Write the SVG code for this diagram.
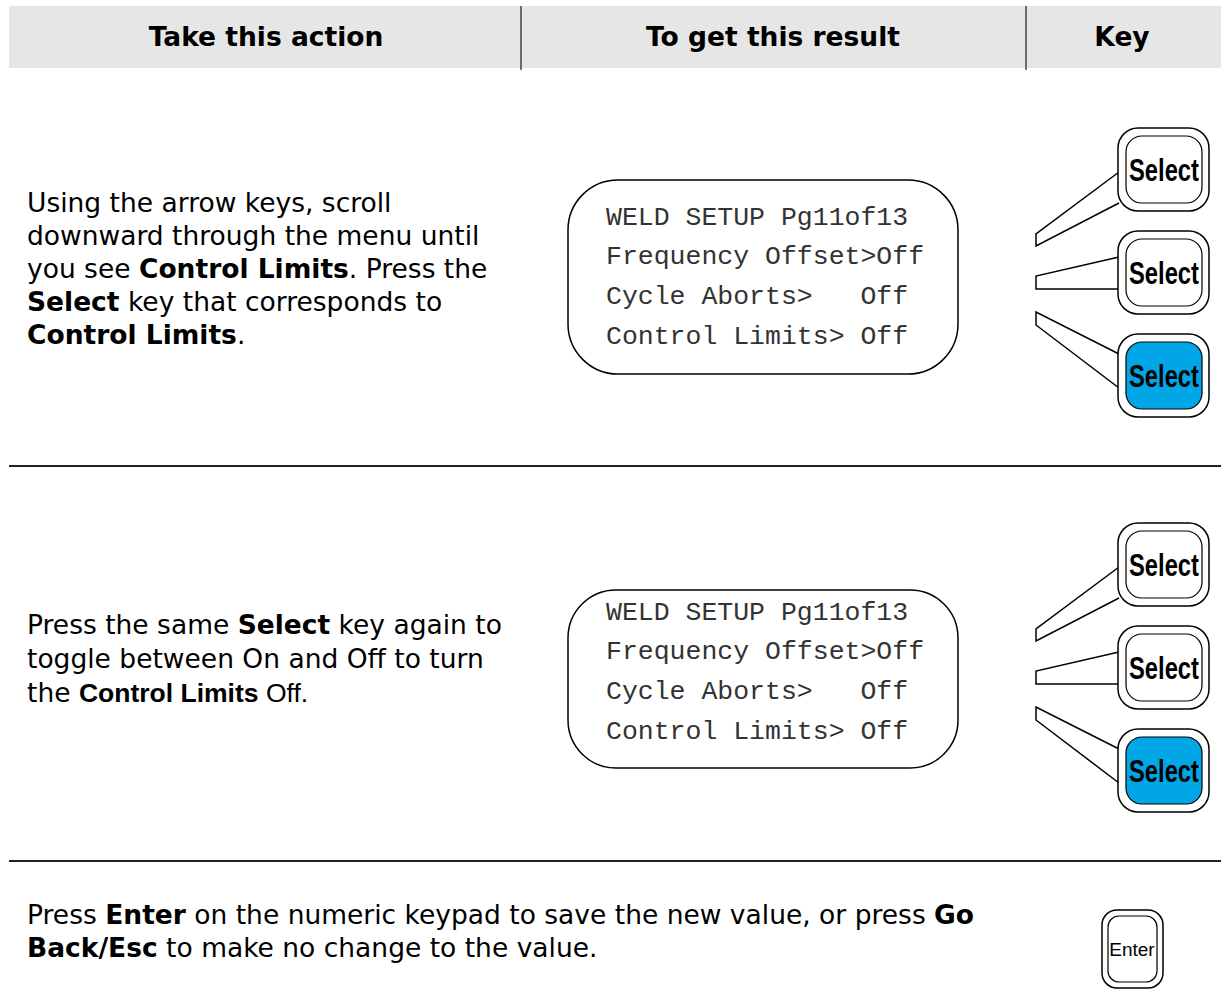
<svg xmlns="http://www.w3.org/2000/svg" width="1221" height="1004" viewBox="0 0 1221 1004">
<style>
.hdr{font-family:"DejaVu Sans",Verdana,sans-serif;font-weight:bold;font-size:26.5px;fill:#000}
.body{font-family:"DejaVu Sans",Verdana,sans-serif;font-size:26.5px;fill:#000}
.b{font-weight:bold}
.ar{font-family:"Liberation Sans",Arial,sans-serif}
.lcdbox{fill:#fff;stroke:#000;stroke-width:1.5}
.lcd{font-family:"Liberation Mono","Courier New",monospace;font-size:26.5px;fill:#333;white-space:pre}
.ko{fill:#fff;stroke:#000;stroke-width:1.5}
.ki{fill:#fff;stroke:#000;stroke-width:1.2}
.kon{fill:#00a6e6}
.kt{font-family:"Liberation Sans",Arial,sans-serif;font-weight:bold;font-size:32px;fill:#000;text-anchor:middle}
.et{font-family:"Liberation Sans",Arial,sans-serif;font-size:19px;fill:#000;text-anchor:middle}
.sep{stroke:#222;stroke-width:2}
.div{stroke:#444;stroke-width:1.5}
.wedge{fill:none;stroke:#000;stroke-width:1.5}
</style>

<g id="header">
<rect x="9" y="6" width="1212" height="62" fill="#e6e6e6"/>
<line class="div" x1="521" y1="6" x2="521" y2="70"/>
<line class="div" x1="1026" y1="6" x2="1026" y2="70"/>
<text class="hdr" x="266" y="46" text-anchor="middle">Take this action</text>
<text class="hdr" x="773" y="46" text-anchor="middle">To get this result</text>
<text class="hdr" x="1122" y="46" text-anchor="middle">Key</text>
</g>

<g id="separators">
<line class="sep" x1="9" y1="466" x2="1221" y2="466"/>
<line class="sep" x1="9" y1="861" x2="1221" y2="861"/>
</g>

<g id="step1-text">
<text class="body" x="27" y="212">Using the arrow keys, scroll</text>
<text class="body" x="27" y="245">downward through the menu until</text>
<text class="body" x="27" y="278">you see <tspan class="b">Control Limits</tspan>. Press the</text>
<text class="body" x="27" y="311"><tspan class="b">Select</tspan> key that corresponds to</text>
<text class="body" x="27" y="344"><tspan class="b">Control Limits</tspan>.</text>
</g>

<g id="step1-lcd">
<rect class="lcdbox" x="568" y="180" width="390" height="194" rx="50" ry="50"/>
<text class="lcd" x="606" y="225">WELD SETUP Pg11of13</text>
<text class="lcd" x="606" y="264">Frequency Offset&gt;Off</text>
<text class="lcd" x="606" y="304">Cycle Aborts&gt;   Off</text>
<text class="lcd" x="606" y="344">Control Limits&gt; Off</text>
</g>

<g id="connectors">
<path class="wedge" d="M1119,172 L1036,234 L1036,246 L1119,203"/>
<path class="wedge" d="M1119,257 L1036,276 L1036,289 L1119,289"/>
<path class="wedge" d="M1119,354 L1036,312 L1036,325 L1119,388"/>
<path class="wedge" d="M1119,567 L1036,629 L1036,641 L1119,598"/>
<path class="wedge" d="M1119,652 L1036,671 L1036,684 L1119,684"/>
<path class="wedge" d="M1119,749 L1036,707 L1036,720 L1119,783"/>
</g>

<g id="step1-key1">
<rect class="ko" x="1118" y="128" width="91" height="83" rx="20"/>
<rect class="ki" x="1126" y="136" width="76" height="67" rx="16"/>
<text class="kt" x="1164" y="181" textLength="70" lengthAdjust="spacingAndGlyphs">Select</text>
</g>
<g id="step1-key2">
<rect class="ko" x="1118" y="231" width="91" height="83" rx="20"/>
<rect class="ki" x="1126" y="239" width="76" height="67" rx="16"/>
<text class="kt" x="1164" y="284" textLength="70" lengthAdjust="spacingAndGlyphs">Select</text>
</g>
<g id="step1-key3">
<rect class="ko" x="1118" y="334" width="91" height="83" rx="20"/>
<rect class="ki kon" x="1126" y="342" width="76" height="67" rx="16"/>
<text class="kt" x="1164" y="387" textLength="70" lengthAdjust="spacingAndGlyphs">Select</text>
</g>

<g id="step2-text">
<text class="body" x="27" y="634">Press the same <tspan class="b">Select</tspan> key again to</text>
<text class="body" x="27" y="668">toggle between On and Off to turn</text>
<text class="body" x="27" y="702">the <tspan class="ar b">Control Limits</tspan><tspan class="ar"> Off.</tspan></text>
</g>

<g id="step2-lcd">
<rect class="lcdbox" x="568" y="590" width="390" height="178" rx="48" ry="48"/>
<text class="lcd" x="606" y="620">WELD SETUP Pg11of13</text>
<text class="lcd" x="606" y="659">Frequency Offset&gt;Off</text>
<text class="lcd" x="606" y="699">Cycle Aborts&gt;   Off</text>
<text class="lcd" x="606" y="739">Control Limits&gt; Off</text>
</g>

<g id="step2-key1">
<rect class="ko" x="1118" y="523" width="91" height="83" rx="20"/>
<rect class="ki" x="1126" y="531" width="76" height="67" rx="16"/>
<text class="kt" x="1164" y="576" textLength="70" lengthAdjust="spacingAndGlyphs">Select</text>
</g>
<g id="step2-key2">
<rect class="ko" x="1118" y="626" width="91" height="83" rx="20"/>
<rect class="ki" x="1126" y="634" width="76" height="67" rx="16"/>
<text class="kt" x="1164" y="679" textLength="70" lengthAdjust="spacingAndGlyphs">Select</text>
</g>
<g id="step2-key3">
<rect class="ko" x="1118" y="729" width="91" height="83" rx="20"/>
<rect class="ki kon" x="1126" y="737" width="76" height="67" rx="16"/>
<text class="kt" x="1164" y="782" textLength="70" lengthAdjust="spacingAndGlyphs">Select</text>
</g>

<g id="step3-text">
<text class="body" x="27" y="924">Press <tspan class="b">Enter</tspan> on the numeric keypad to save the new value, or press <tspan class="b">Go</tspan></text>
<text class="body" x="27" y="957"><tspan class="b">Back/Esc</tspan> to make no change to the value.</text>
</g>

<g id="step3-enter-key">
<rect class="ko" x="1102" y="910" width="61" height="78" rx="15"/>
<rect class="ki" x="1108" y="916" width="49" height="66" rx="11"/>
<text class="et" x="1132" y="956">Enter</text>
</g>
</svg>
